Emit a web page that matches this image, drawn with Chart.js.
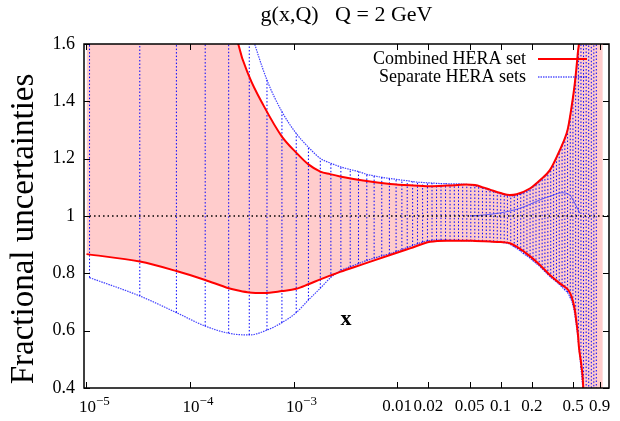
<!DOCTYPE html>
<html>
<head>
<meta charset="UTF-8">
<script src="https://cdn.jsdelivr.net/npm/chart.js"></script>
<style>
  html, body { margin: 0; padding: 0; background: #fff; }
  .wrap { width: 620px; height: 421px; }
</style>
<title>g(x,Q) fractional uncertainties</title>
</head>
<body>
<div class="wrap"><canvas id="grafico" width="620" height="421"></canvas></div>
<script>
// ticks ("base^exp" labels are drawn with a raised exponent)
const xTickValues = [1e-5, 1e-4, 1e-3, 0.01, 0.02, 0.05, 0.1, 0.2, 0.5, 0.9];
const xTickLabels = ['10^-5', '10^-4', '10^-3', '0.01', '0.02', '0.05', '0.1', '0.2', '0.5', '0.9'];
const yTickValues = [0.4, 0.6, 0.8, 1.0, 1.2, 1.4, 1.6];
const yTickLabels = ['0.4', '0.6', '0.8', '1', '1.2', '1.4', '1.6'];

// combined HERA set (red band)
const redX = [1e-5, 3.27e-5, 7.38e-5, 1.40e-4, 2.36e-4, 2.92e-4, 3.73e-4, 5.13e-4, 7.71e-4, 1.06e-3,
  1.39e-3, 1.81e-3, 2.25e-3, 2.81e-3, 4.69e-3, 8.54e-3, 0.0133, 0.0208, 0.0301, 0.0378,
  0.0462, 0.0564, 0.0674, 0.0787, 0.0998, 0.1226, 0.1423, 0.191, 0.239, 0.298,
  0.372, 0.432, 0.448, 0.483, 0.519, 0.547, 0.559, 0.568, 0.603, 0.625, 0.725, 0.967];
const redHi = [6.0, 4.5, 3.2, 2.4, 1.8, 1.60, 1.486, 1.385, 1.277, 1.221,
  1.180, 1.155, 1.146, 1.138, 1.124, 1.112, 1.107, 1.104, 1.106, 1.108,
  1.110, 1.108, 1.100, 1.092, 1.080, 1.073, 1.076, 1.096, 1.125, 1.160,
  1.230, 1.288, 1.31, 1.381, 1.463, 1.544, 1.58, 1.60, 1.85, 2.0, 2.8, 4.0];
const redLo = [0.867, 0.841, 0.808, 0.777, 0.748, 0.740, 0.733, 0.731, 0.738, 0.746,
  0.762, 0.779, 0.792, 0.805, 0.832, 0.864, 0.887, 0.910, 0.914, 0.914,
  0.914, 0.913, 0.912, 0.911, 0.909, 0.905, 0.893, 0.860, 0.829, 0.794,
  0.765, 0.748, 0.742, 0.719, 0.672, 0.61, 0.579, 0.545, 0.474, 0.405, -0.5, -2.0];

// separate HERA sets (blue band, one hatch line per x point)
const blueX = [1.07e-5, 3.27e-5, 7.38e-5, 1.40e-4, 2.36e-4, 3.73e-4, 5.53e-4, 7.71e-4, 1.06e-3, 1.39e-3,
  1.81e-3, 2.29e-3, 2.86e-3, 3.52e-3, 4.23e-3, 5.09e-3, 5.99e-3, 7.10e-3, 8.41e-3, 9.76e-3,
  0.0111, 0.0125, 0.0141, 0.0157, 0.0176, 0.0196, 0.0217, 0.0240, 0.0265, 0.0293,
  0.0324, 0.0356, 0.0391, 0.0429, 0.0470, 0.0514, 0.0562, 0.0612, 0.0666, 0.0725,
  0.0787, 0.0854, 0.0925, 0.100, 0.108, 0.116, 0.125, 0.135, 0.145, 0.156,
  0.167, 0.179, 0.192, 0.205, 0.219, 0.235, 0.251, 0.267, 0.285, 0.304,
  0.324, 0.345, 0.367, 0.391, 0.416, 0.442, 0.469, 0.498, 0.529, 0.562,
  0.595, 0.630, 0.668, 0.707, 0.749, 0.792, 0.837];
const blueLo = [0.785, 0.721, 0.663, 0.616, 0.591, 0.585, 0.602, 0.628, 0.663, 0.707,
  0.748, 0.786, 0.810, 0.823, 0.834, 0.845, 0.853, 0.861, 0.868, 0.876,
  0.883, 0.890, 0.897, 0.903, 0.909, 0.913, 0.915, 0.916, 0.916, 0.916,
  0.915, 0.915, 0.915, 0.914, 0.914, 0.913, 0.913, 0.912, 0.912, 0.911,
  0.911, 0.910, 0.909, 0.908, 0.907, 0.905, 0.900, 0.892, 0.885, 0.877,
  0.868, 0.861, 0.853, 0.844, 0.835, 0.826, 0.816, 0.806, 0.796, 0.786,
  0.778, 0.770, 0.762, 0.752, 0.742, 0.733, 0.715, 0.690, 0.635, 0.56,
  0.47, 0.37, 0.25, 0.10, -0.1, -0.4, -0.8];
const blueHi = [5.0, 4.0, 3.0, 2.3, 1.9, 1.66, 1.474, 1.364, 1.288, 1.240,
  1.201, 1.184, 1.171, 1.162, 1.155, 1.145, 1.140, 1.135, 1.131, 1.128,
  1.125, 1.123, 1.120, 1.118, 1.117, 1.116, 1.115, 1.114, 1.113, 1.113,
  1.112, 1.112, 1.112, 1.111, 1.110, 1.108, 1.105, 1.102, 1.098, 1.094,
  1.090, 1.086, 1.081, 1.077, 1.074, 1.071, 1.070, 1.071, 1.074, 1.077,
  1.083, 1.087, 1.093, 1.101, 1.110, 1.119, 1.129, 1.139, 1.149, 1.162,
  1.183, 1.202, 1.222, 1.245, 1.269, 1.30, 1.35, 1.41, 1.485, 1.575,
  1.70, 1.85, 2.0, 2.3, 2.6, 3.0, 3.5];
// central value of the separate sets
const blueMidX = [0.0505, 0.0704, 0.1, 0.153, 0.239, 0.321, 0.387, 0.465, 0.519, 0.58];
const blueMid = [1.0, 1.004, 1.011, 1.027, 1.056, 1.073, 1.081, 1.073, 1.044, 1.01];

const refX = [1.07e-5, 1.1];
const refY = [1, 1];

const pts = (xs, ys) => xs.map((x, i) => ({ x: x, y: ys[i] }));
const hatch = [];
blueX.forEach((x, i) => {
  hatch.push({ x: x, y: blueLo[i] }, { x: x, y: blueHi[i] }, { x: x, y: null });
});

const serif = 'Liberation Serif';

const decor = {
  id: 'decor',
  afterDraw(chart) {
    const { ctx, chartArea: a, scales } = chart;
    ctx.save();
    // frame
    ctx.strokeStyle = '#000';
    ctx.lineWidth = 1.5;
    ctx.strokeRect(a.left, a.top, a.right - a.left, a.bottom - a.top);
    // inward ticks, mirrored
    ctx.lineWidth = 1;
    ctx.beginPath();
    xTickValues.forEach(v => {
      const px = Math.round(scales.x.getPixelForValue(v)) + 0.5;
      ctx.moveTo(px, a.bottom); ctx.lineTo(px, a.bottom - 6);
      ctx.moveTo(px, a.top); ctx.lineTo(px, a.top + 6);
    });
    yTickValues.forEach(v => {
      const py = Math.round(scales.y.getPixelForValue(v)) + 0.5;
      ctx.moveTo(a.left, py); ctx.lineTo(a.left + 6, py);
      ctx.moveTo(a.right, py); ctx.lineTo(a.right - 6, py);
    });
    ctx.stroke();

    ctx.fillStyle = '#000';
    ctx.textBaseline = 'middle';
    // power-of-ten tick labels
    xTickLabels.forEach((lab, i) => {
      if (lab.indexOf('^') < 0) return;
      const [base, exp] = lab.split('^');
      const px = scales.x.getPixelForValue(xTickValues[i]);
      ctx.font = '17px "' + serif + '"';
      ctx.textAlign = 'center';
      ctx.fillText(base, px + 1, a.bottom + 20);
      const bw = ctx.measureText(base).width;
      ctx.font = '13px "' + serif + '"';
      ctx.textAlign = 'left';
      ctx.fillText(exp.replace('-', '\u2212'), px + 1 + bw / 2, a.bottom + 14);
    });
    // title
    ctx.font = '22px "' + serif + '"';
    ctx.textAlign = 'center';
    ctx.fillText('g(x,Q)   Q = 2 GeV', (a.left + a.right) / 2, 15);
    // y title
    ctx.save();
    ctx.translate(24, 229);
    ctx.rotate(-Math.PI / 2);
    ctx.font = '33px "' + serif + '"';
    ctx.fillText('Fractional uncertainties', 0, 0);
    ctx.restore();
    // x label inside the frame
    ctx.font = 'bold 22px "' + serif + '"';
    ctx.fillText('x', a.left + 262, a.top + 275);

    // legend
    ctx.font = '18px "' + serif + '"';
    ctx.textAlign = 'right';
    const lx = a.right - 83, ly = a.top + 15;
    ctx.fillText('Combined HERA set', lx, ly);
    ctx.fillText('Separate HERA sets', lx, ly + 18);
    ctx.strokeStyle = '#ff0000';
    ctx.lineWidth = 2;
    ctx.beginPath(); ctx.moveTo(lx + 12, ly); ctx.lineTo(lx + 61, ly); ctx.stroke();
    ctx.strokeStyle = '#0000ff';
    ctx.lineWidth = 1.2;
    ctx.setLineDash([1.5, 1]);
    ctx.beginPath(); ctx.moveTo(lx + 12, ly + 18); ctx.lineTo(lx + 61, ly + 18); ctx.stroke();
    ctx.restore();
  }
};

const smooth = { cubicInterpolationMode: 'monotone', pointRadius: 0 };

new Chart(document.getElementById('grafico'), {
  type: 'line',
  data: {
    datasets: [
      { data: pts(refX, refY), borderColor: '#000', borderWidth: 1.3, borderDash: [1.5, 3], pointRadius: 0, fill: false },
      { ...smooth, data: pts(redX, redHi), borderColor: '#ff0000', borderWidth: 2, fill: false },
      { ...smooth, data: pts(redX, redLo), borderColor: '#ff0000', borderWidth: 2, fill: '-1', backgroundColor: '#ffcccc' },
      { ...smooth, data: pts(blueMidX, blueMid), borderColor: 'rgba(60,60,255,0.8)', borderWidth: 1, fill: false },
      { ...smooth, data: pts(blueX, blueHi), borderColor: 'rgba(0,0,255,0.75)', borderWidth: 1.2, borderDash: [1.5, 1], fill: false },
      { ...smooth, data: pts(blueX, blueLo), borderColor: 'rgba(0,0,255,0.75)', borderWidth: 1.2, borderDash: [1.5, 1], fill: false },
      { data: hatch, borderColor: '#0000ff', borderWidth: 1, borderDash: [1.5, 2], pointRadius: 0, fill: false, spanGaps: false }
    ]
  },
  options: {
    responsive: false,
    animation: false,
    events: [],
    layout: { padding: { top: 44, right: 11, left: 0, bottom: 0 } },
    plugins: {
      legend: { display: false },
      tooltip: { enabled: false },
      filler: { drawTime: 'beforeDatasetsDraw' }
    },
    scales: {
      x: {
        type: 'logarithmic',
        min: 0.946e-5,
        max: 1.11,
        afterBuildTicks: s => { s.ticks = xTickValues.map(v => ({ value: v })); },
        afterFit: s => { s.height = 33; },
        grid: { display: false, drawTicks: false },
        border: { display: false },
        ticks: {
          autoSkip: false, maxRotation: 0, minRotation: 0, padding: 8,
          color: '#000', font: { family: serif, size: 17 },
          callback: (v, i) => (xTickLabels[i].indexOf('^') < 0 ? xTickLabels[i] : '')
        }
      },
      y: {
        type: 'linear',
        min: 0.4,
        max: 1.6,
        afterBuildTicks: s => { s.ticks = yTickValues.map(v => ({ value: v })); },
        afterFit: s => { s.width = 84; },
        grid: { display: false, drawTicks: false },
        border: { display: false },
        ticks: {
          padding: 9, color: '#000', font: { family: serif, size: 18 },
          callback: (v, i) => yTickLabels[i]
        }
      }
    }
  },
  plugins: [decor]
});
</script>
</body>
</html>
